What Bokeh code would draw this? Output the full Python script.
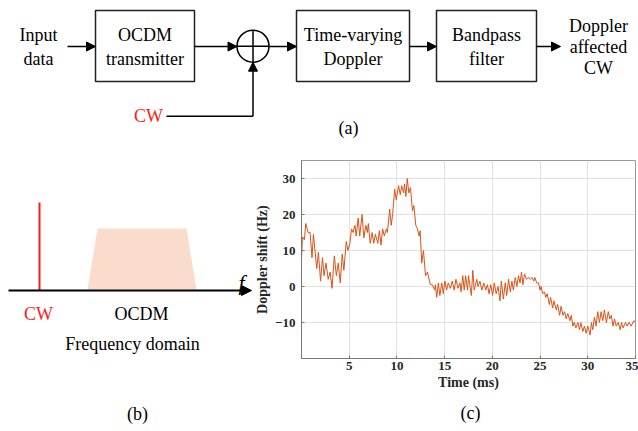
from bokeh.plotting import figure
from bokeh.layouts import column, row
from bokeh.models import Arrow, NormalHead, FixedTicker, Range1d
from bokeh.embed import file_html
from bokeh.resources import INLINE
from bokeh.core.properties import value

# ---------------- data (panel c) ----------------
time_ms = [0.0, 0.1, 0.3, 0.45, 0.7, 0.9, 1.1, 1.25, 1.6, 1.77,
           2.0, 2.2, 2.36, 2.57, 2.8, 3.0, 3.2, 3.44, 3.65, 3.85,
           4.06, 4.27, 4.44, 4.69, 4.86, 5.07, 5.24, 5.4, 5.6, 5.73,
           5.94, 6.1, 6.35, 6.53, 6.74, 6.9, 7.0, 7.2, 7.4, 7.57,
           7.74, 8.0, 8.16, 8.33, 8.5, 8.68, 8.9, 9.0, 9.24, 9.4,
           9.55, 9.76, 9.93, 10.17, 10.35, 10.5, 10.7, 10.8, 10.94, 11.08,
           11.25, 11.42, 11.63, 11.77, 11.98, 12.15, 12.33, 12.43, 12.6, 12.78,
           13.0, 13.2, 13.5, 13.7, 13.96, 14.03, 14.17, 14.34, 14.5, 14.7,
           14.86, 15.03, 15.2, 15.38, 15.6, 15.8, 16.0, 16.18, 16.4, 16.6,
           16.72, 16.9, 17.05, 17.2, 17.4, 17.5, 17.8, 17.95, 18.1, 18.37,
           18.5, 18.7, 18.9, 19.1, 19.3, 19.48, 19.65, 19.83, 20.03, 20.2,
           20.4, 20.6, 20.8, 20.94, 21.15, 21.35, 21.5, 21.7, 21.88, 22.05,
           22.2, 22.4, 22.57, 22.74, 22.9, 23.06, 23.2, 23.37, 23.58, 23.75,
           23.96, 24.17, 24.34, 24.45, 24.65, 24.83, 25.0, 25.1, 25.28, 25.45,
           25.6, 25.75, 25.97, 26.1, 26.32, 26.45, 26.7, 26.84, 27.05, 27.2,
           27.4, 27.57, 27.74, 27.9, 28.13, 28.27, 28.44, 28.58, 28.75, 28.96,
           29.13, 29.27, 29.48, 29.65, 29.83, 30.0, 30.1, 30.24, 30.38, 30.52,
           30.7, 30.87, 31.04, 31.22, 31.4, 31.57, 31.74, 31.95, 32.15, 32.3,
           32.47, 32.64, 32.8, 32.98, 33.19, 33.4, 33.53, 33.7, 33.95, 34.12,
           34.33, 34.54, 34.83, 35.0]
doppler_hz = [7.5, 13.8, 13.0, 17.5, 15.0, 15.0, 8.0, 14.5, 5.0, 9.5,
              1.5, 8.0, 3.0, 6.5, 2.0, 4.0, -0.5, 8.5, 3.0, 6.5,
              1.0, 9.0, 4.5, 12.5, 10.0, 12.0, 16.0, 15.0, 17.0, 14.0,
              19.0, 14.0, 20.0, 13.5, 17.0, 15.0, 17.5, 12.0, 15.0, 12.0,
              14.5, 12.0, 15.5, 11.5, 16.0, 14.0, 16.0, 15.0, 21.5, 17.0,
              20.0, 27.0, 24.0, 28.0, 25.5, 28.0, 26.0, 28.5, 25.0, 30.0,
              26.0, 27.5, 21.0, 22.5, 17.0, 16.0, 14.0, 15.5, 6.5, 10.0,
              3.0, 4.0, 0.5, 0.5, -1.0, 0.5, -3.0, 1.0, -2.5, 1.0,
              -2.0, 1.5, -1.0, 1.0, -0.5, 1.5, -1.0, 2.0, -0.5, 1.0,
              -1.5, 3.0, -1.0, 3.0, -1.0, 3.0, -2.5, 4.5, -1.0, 2.0,
              0.0, 1.5, -1.0, 1.0, -1.0, 0.5, -2.0, 0.5, -2.5, 1.0,
              -2.0, 0.0, -4.0, 1.5, -3.5, 1.0, -2.5, 2.0, -1.5, 1.5,
              -1.0, 2.5, 0.0, 3.0, 1.0, 4.0, 0.5, 3.5, 2.0, 2.5,
              2.0, 2.5, 1.5, 2.5, 1.0, 1.0, -1.0, 0.0, -2.0, -1.5,
              -3.0, -2.0, -5.0, -3.0, -6.0, -4.0, -6.5, -5.0, -8.0, -5.5,
              -8.0, -7.0, -9.0, -7.5, -9.5, -8.0, -11.0, -10.0, -11.5, -10.0,
              -12.0, -10.0, -12.5, -11.0, -13.0, -11.0, -12.0, -13.5, -10.0, -12.0,
              -8.5, -11.0, -7.0, -10.0, -7.0, -9.5, -6.5, -10.0, -7.0, -9.0,
              -8.0, -11.0, -9.0, -11.0, -10.0, -12.0, -10.0, -11.5, -10.0, -11.0,
              -10.0, -11.0, -9.5, -10.0]
x_ticks = [5, 10, 15, 20, 25, 30, 35]
y_ticks = [-10, 0, 10, 20, 30]

# ---------------- diagram texts ----------------
block_labels = [["OCDM", "transmitter"], ["Time-varying", "Doppler"], ["Bandpass", "filter"]]
input_label = ["Input", "data"]
output_label = ["Doppler", "affected", "CW"]
panel_labels = ["(a)", "(b)", "(c)"]

SERIF = "Liberation Serif"
GLYPH_SERIF = "'Liberation Serif', serif"


def canvas(w, h, y0=0, bt=0, bb=0):
    # pixel-coordinate canvas; the frame spans y0+bt .. y0+h-bb
    p = figure(width=w, height=h, x_range=Range1d(0, w),
               y_range=Range1d(y0 + h - bb, y0 + bt),
               output_backend="svg", toolbar_location=None,
               min_border_left=0, min_border_right=0,
               min_border_top=bt, min_border_bottom=bb,
               x_axis_type=None, y_axis_type=None)
    p.grid.visible = False
    p.outline_line_color = None
    p.background_fill_color = "white"
    p.border_fill_color = "white"
    return p


def txt(p, x, y, s, size="18px", color="black", style="normal"):
    p.text(x=[x], y=[y], text=[s], text_font=value(GLYPH_SERIF), text_font_size=size,
           text_align="center", text_baseline="middle", text_color=color,
           text_font_style=style)


def arrow(p, x0, y0, x1, y1, color="black", lw=1.5, size=9):
    p.add_layout(Arrow(end=NormalHead(size=size, fill_color=color, line_color=color),
                       x_start=x0, y_start=y0, x_end=x1, y_end=y1,
                       line_color=color, line_width=lw))


# ---------------- (a) block diagram ----------------
top = canvas(638, 145)
boxes = [(95, 194), (296, 409), (436, 536)]
for (l, r), lab in zip(boxes, block_labels):
    top.quad(left=[l], right=[r], top=[10], bottom=[81], fill_color=None,
             line_color="#222222", line_width=1.5)
    cx = (l + r) / 2
    txt(top, cx, 34, lab[0])
    txt(top, cx, 58, lab[1])

txt(top, 38, 34, input_label[0])
txt(top, 38, 58, input_label[1])
for i, s in enumerate(output_label):
    txt(top, 598, 25 + 21 * i, s)

cx, cy, r = 252.5, 45.7, 16
top.circle(x=[cx], y=[cy], radius=r, fill_color=None, line_color="black", line_width=1.5)
top.segment(x0=[cx - r, cx], y0=[cy, cy - r], x1=[cx + r, cx], y1=[cy, cy + r],
            line_color="black", line_width=1.5)

arrow(top, 67, 46, 95, 46)
arrow(top, 194, 46, cx - r, 46)
arrow(top, cx + r, 46, 296, 46)
arrow(top, 409, 46, 436, 46)
arrow(top, 536, 46, 560, 46)
top.line(x=[166, cx], y=[115.7, 115.7], line_color="black", line_width=1.5)
arrow(top, cx, 115.7, cx, cy + r)
txt(top, 148, 115, "CW", color="#ff1a1a")
txt(top, 348, 127, panel_labels[0])

# ---------------- (b) frequency domain sketch ----------------
# same top/bottom borders as chart (c) so the row keeps frames aligned without rescaling
bfig = canvas(252, 255, y0=145, bt=15, bb=42)
bfig.patch(x=[87, 97, 186, 196], y=[289, 228, 228, 289], fill_color="#f9dccb",
           line_color=None)
arrow(bfig, 8, 290, 251, 290, lw=2, size=10)
bfig.line(x=[39, 39], y=[290, 202], line_color="#ff1a1a", line_width=2)
txt(bfig, 241, 282, "f", size="22px", style="italic")
txt(bfig, 38, 313, "CW", color="#ff1a1a")
txt(bfig, 141, 313, "OCDM")
txt(bfig, 132, 343, "Frequency domain")

# ---------------- (c) Doppler shift chart ----------------
c = figure(width=386, height=255, x_range=Range1d(0, 35), y_range=Range1d(-20, 35),
           output_backend="svg", toolbar_location=None,
           min_border_left=47, min_border_right=3, min_border_top=15, min_border_bottom=42)
c.line(time_ms, doppler_hz, line_color="#D95319", line_width=1.0)
c.xaxis.ticker = FixedTicker(ticks=x_ticks)
c.yaxis.ticker = FixedTicker(ticks=y_ticks)
c.xaxis.axis_label = "Time (ms)"
c.yaxis.axis_label = "Doppler shift (Hz)"
for ax in (c.xaxis, c.yaxis):
    ax.axis_label_text_font = SERIF
    ax.axis_label_text_font_style = "bold"
    ax.axis_label_text_font_size = "14px"
    ax.axis_label_text_color = "#262626"
    ax.major_label_text_font = SERIF
    ax.major_label_text_font_style = "bold"
    ax.major_label_text_font_size = "13px"
    ax.major_label_text_color = "#262626"
    ax.axis_line_color = "#777777"
    ax.major_tick_line_color = "#777777"
    ax.major_tick_in = 3
    ax.major_tick_out = 0
    ax.minor_tick_line_color = None
c.xaxis.major_label_standoff = 3
c.xaxis.axis_label_standoff = 2
c.yaxis.major_label_standoff = 6
c.yaxis.axis_label_standoff = 2
c.grid.grid_line_color = "#e2e2e2"
c.outline_line_color = "#999999"
c.background_fill_color = "white"

# ---------------- bottom labels ----------------
bottom = canvas(638, 31, y0=400)
txt(bottom, 137, 413, panel_labels[1])
txt(bottom, 470, 412, panel_labels[2])

layout = column(top, row(bfig, c), bottom)
open("out.html", "w").write(file_html(layout, INLINE))
